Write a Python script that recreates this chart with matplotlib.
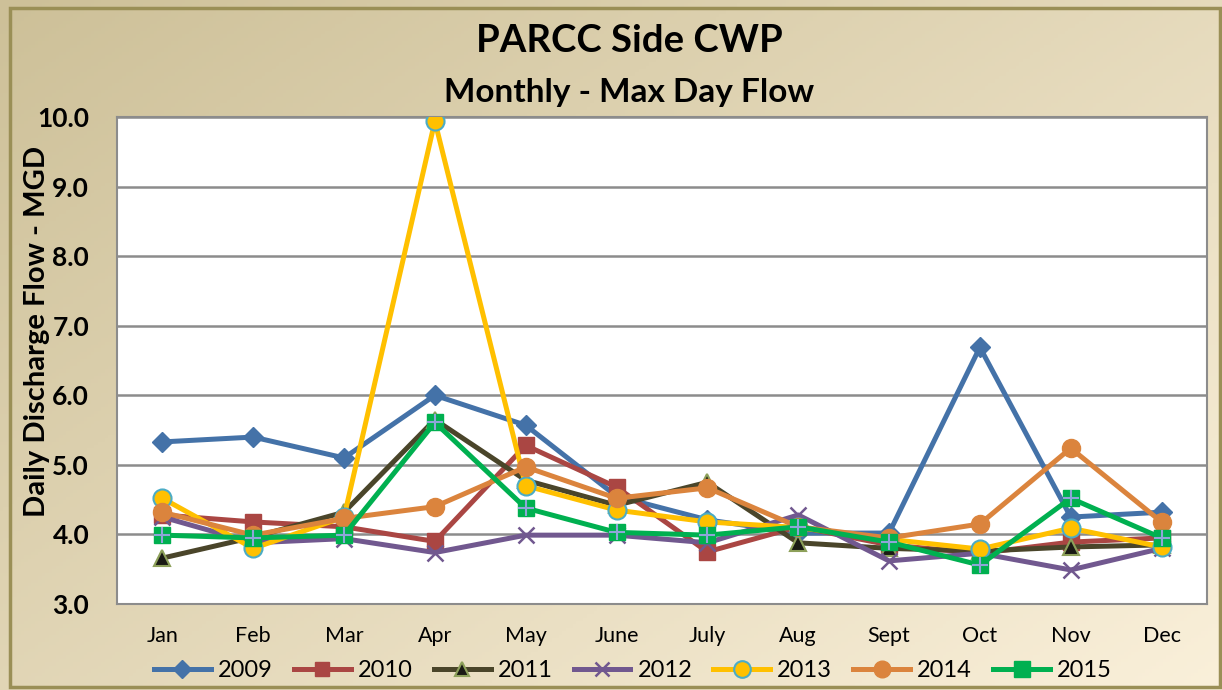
import numpy as np
import matplotlib
matplotlib.use("Agg")
import matplotlib.pyplot as plt
from matplotlib.lines import Line2D
from matplotlib.patches import Rectangle

plt.rcParams['font.family'] = ['Lato', 'DejaVu Sans']

months = ["Jan", "Feb", "Mar", "Apr", "May", "June", "July", "Aug", "Sept", "Oct", "Nov", "Dec"]
years = ["2009", "2010", "2011", "2012", "2013", "2014", "2015"]

y2009 = [5.33, 5.40, 5.10, 6.00, 5.57, 4.55, 4.21, 4.02, 4.02, 6.69, 4.25, 4.32]
y2010 = [4.28, 4.18, 4.11, 3.90, 5.28, 4.68, 3.75, 4.11, 3.85, 3.73, 3.89, 3.95]
y2011 = [3.66, 3.96, 4.32, 5.65, 4.78, 4.42, 4.75, 3.88, 3.80, 3.76, 3.82, 3.85]
y2012 = [4.25, 3.88, 3.94, 3.74, 3.99, 3.99, 3.88, 4.28, 3.62, 3.73, 3.49, 3.80]
y2013 = [4.52, 3.80, 4.25, 9.94, 4.70, 4.35, 4.18, 4.10, 3.93, 3.79, 4.09, 3.82]
y2014 = [4.32, 3.99, 4.23, 4.40, 4.97, 4.52, 4.67, 4.11, 3.95, 4.15, 5.24, 4.18]
y2015 = [3.99, 3.95, 3.99, 5.61, 4.38, 4.03, 3.99, 4.11, 3.89, 3.56, 4.52, 3.95]

yticks = [3.0, 4.0, 5.0, 6.0, 7.0, 8.0, 9.0, 10.0]

series = [y2009, y2010, y2011, y2012, y2013, y2014, y2015]

styles = [
    dict(color="#4472A8", marker="D", ms=10, mfc="#4472A8", mec="#4472A8", mew=1),
    dict(color="#AA4643", marker="s", ms=11, mfc="#AA4643", mec="#AA4643", mew=1),
    dict(color="#4A452A", marker="^", ms=11, mfc="#1A1A14", mec="#8DA05A", mew=1.5),
    dict(color="#71588F", marker="x", ms=11, mfc="#71588F", mec="#71588F", mew=1.8),
    dict(color="#FFC000", marker="o", ms=13, mfc="#FFC000", mec="#4BACC6", mew=1.5),
    dict(color="#DB843D", marker="o", ms=13, mfc="#DB843D", mec="#DB843D", mew=1),
    dict(color="#00B050", marker="s", ms=12, mfc="#00B050", mec="#00B050", mew=1),
]

fig = plt.figure(figsize=(12.22, 6.9), dpi=100)

# background gradient
bg = fig.add_axes([0, 0, 1, 1], zorder=-10)
bg.set_axis_off()
h, w = 200, 350
yy, xx = np.mgrid[0:1:h*1j, 0:1:w*1j]
t = np.clip(0.55 * xx + 0.45 * yy, 0, 1)
c0 = np.array([205, 192, 152]) / 255.0
c1 = np.array([250, 240, 218]) / 255.0
img = c0[None, None, :] * (1 - t[..., None]) + c1[None, None, :] * t[..., None]
bg.imshow(img, extent=[0, 1, 0, 1], aspect='auto', origin='upper')
bg.set_xlim(0, 1)
bg.set_ylim(0, 1)
bg.add_patch(Rectangle((0.008, 0.004), 0.99, 0.985, fill=False, edgecolor="#9A8F56", lw=2.5,
                       transform=bg.transAxes))

ax = fig.add_axes([0.0957, 0.1246, 0.892, 0.7058])
ax.set_facecolor("white")
x = np.arange(len(months))
for vals, st, yr in zip(series, styles, years):
    ax.plot(x, vals, color=st["color"], lw=3.6, marker=st["marker"], ms=st["ms"],
            mfc=st["mfc"], mec=st["mec"], mew=st["mew"], label=yr, zorder=3)
    if yr == "2015":
        ax.plot(x, vals, ls="none", marker="+", ms=11, mew=1.5, color="#8EA5D8", zorder=4)

ax.set_xlim(-0.5, len(months) - 0.5)
ax.set_ylim(3.0, 10.0)
ax.set_yticks(yticks)
ax.set_yticklabels([f"{v:.1f}" for v in yticks], fontsize=19, fontweight="bold")
ax.set_xticks(x)
ax.set_xticklabels(months, fontsize=15.5)
ax.tick_params(axis="y", length=0, pad=20)
ax.tick_params(axis="x", length=0, pad=16)
ax.grid(axis="y", color="#8C8C8C", lw=1.8)
ax.set_axisbelow(True)
for sp in ax.spines.values():
    sp.set_color("#8C8C8C")
    sp.set_linewidth(1.5)

fig.text(0.030, 0.519, "Daily Discharge Flow - MGD", rotation=90, ha="center", va="center",
         fontsize=21, fontweight="bold")

fig.text(0.515, 0.940, "PARCC Side CWP", ha="center", va="center", fontsize=27.5, fontweight="bold")
fig.text(0.515, 0.866, "Monthly - Max Day Flow", ha="center", va="center", fontsize=24, fontweight="bold")

handles = []
for st, yr in zip(styles, years):
    handles.append(Line2D([0], [0], color=st["color"], lw=3.6, marker=st["marker"], ms=st["ms"] - 1,
                          mfc=st["mfc"], mec=st["mec"], mew=st["mew"]))
leg = fig.legend(handles, years, loc="center", bbox_to_anchor=(0.518, 0.028), ncol=7, frameon=False,
                 fontsize=17, handlelength=2.4, columnspacing=0.9, handletextpad=0.3)

fig.savefig("out.png", dpi=100)
